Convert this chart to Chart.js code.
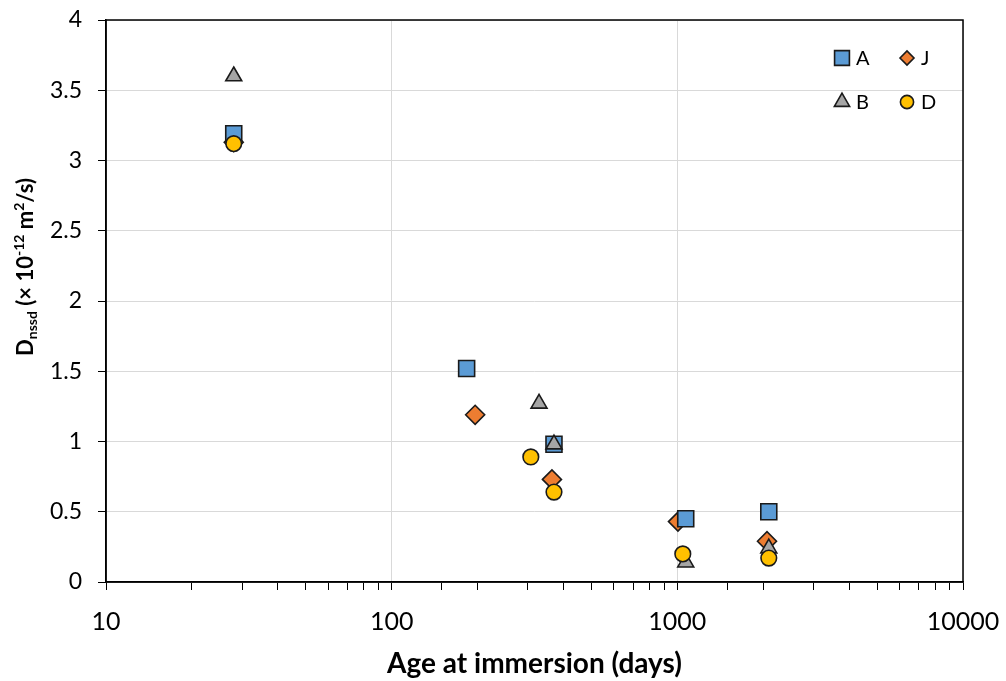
<!DOCTYPE html>
<html><head><meta charset="utf-8">
<script src="https://cdn.jsdelivr.net/npm/chart.js@4.4.1/dist/chart.umd.min.js"></script>
<style>html,body{margin:0;padding:0;background:#fff;}canvas{display:block;}</style>
</head><body>
<canvas id="c" width="1006" height="681"></canvas>
<script>
// ---- data ----
const seriesNames = ['A', 'J', 'B', 'D'];
const ageA = [28, 183, 370, 1070, 2090];
const dA   = [3.19, 1.52, 0.98, 0.45, 0.50];
const ageJ = [28, 196, 364, 1005, 2060];
const dJ   = [3.13, 1.19, 0.73, 0.43, 0.29];
const ageB = [28, 328, 370, 1070, 2090];
const dB   = [3.60, 1.27, 0.98, 0.14, 0.24];
const ageD = [28, 307, 370, 1045, 2090];
const dD   = [3.12, 0.89, 0.64, 0.20, 0.17];
const xTickLabels = ['10', '100', '1000', '10000'];
const yTickLabels = ['0', '0.5', '1', '1.5', '2', '2.5', '3', '3.5', '4'];
const xTitle = 'Age at immersion (days)';
const yTitleParts = [
  {t: 'D', s: 'main'}, {t: 'nssd', s: 'sub'}, {t: ' (\u00d7 10', s: 'main'},
  {t: '-12', s: 'sup'}, {t: ' m', s: 'main'}, {t: '2', s: 'sup'}, {t: '/s)', s: 'main'}
];

const pts = (xs, ys) => xs.map((x, i) => ({x, y: ys[i]}));
const FONT = 'Lato';
const EDGE = '#1a1a1a';

const styles = {
  A: {bg: '#5B9BD5', ps: 'rect', r: 11.3, order: 2},
  J: {bg: '#ED7D31', ps: 'rectRot', r: 9.5, order: 3},
  B: {bg: '#A5A5A5', ps: 'triangle', r: 9.2, order: 1},
  D: {bg: '#FFC000', ps: 'circle', r: 7.8, order: 0}
};
const dataMap = {A: pts(ageA, dA), J: pts(ageJ, dJ), B: pts(ageB, dB), D: pts(ageD, dD)};

const datasets = seriesNames.map(n => ({
  label: n,
  data: dataMap[n],
  pointStyle: styles[n].ps,
  pointRadius: styles[n].r,
  pointHoverRadius: styles[n].r,
  backgroundColor: styles[n].bg,
  borderColor: EDGE,
  borderWidth: 1.6,
  order: styles[n].order
}));

const extras = {
  id: 'extras',
  afterDraw(chart) {
    const {ctx, chartArea: a} = chart;
    ctx.save();
    // frame
    ctx.strokeStyle = '#000';
    ctx.lineWidth = 1.5;
    ctx.strokeRect(a.left, a.top, a.right - a.left, a.bottom - a.top);
    // legend
    const pos = {A: [a.right - 121, a.top + 38], J: [a.right - 56, a.top + 38],
                 B: [a.right - 121, a.top + 82], D: [a.right - 56, a.top + 82]};
    const lr = {A: 10.5, J: 7, B: 8.8, D: 6.6};
    seriesNames.forEach(n => {
      const [x, y] = pos[n];
      ctx.fillStyle = styles[n].bg;
      ctx.strokeStyle = EDGE;
      ctx.lineWidth = 1.6;
      Chart.helpers.drawPoint(ctx, {pointStyle: styles[n].ps, radius: lr[n], borderWidth: 1.6, rotation: 0}, x, y);
      ctx.fillStyle = '#000';
      ctx.font = '20px ' + FONT;
      ctx.textBaseline = 'middle';
      ctx.textAlign = 'left';
      ctx.fillText(n, x + 14, y + 1);
    });
    // y title
    const fm = 'bold 22px ' + FONT, fs = 'bold 14px ' + FONT;
    let total = 0;
    yTitleParts.forEach(p => { ctx.font = p.s === 'main' ? fm : fs; p.w = ctx.measureText(p.t).width; total += p.w; });
    ctx.translate(33, 267);
    ctx.rotate(-Math.PI / 2);
    ctx.fillStyle = '#000';
    ctx.textBaseline = 'alphabetic';
    ctx.textAlign = 'left';
    let x = -total / 2;
    yTitleParts.forEach(p => {
      ctx.font = p.s === 'main' ? fm : fs;
      const dy = p.s === 'sub' ? 4 : (p.s === 'sup' ? -9 : 0);
      ctx.fillText(p.t, x, dy);
      x += p.w;
    });
    ctx.restore();
  }
};

const noPad = s => { s.paddingTop = 0; s.paddingBottom = 0; s.paddingLeft = 0; s.paddingRight = 0; };

new Chart(document.getElementById('c'), {
  type: 'scatter',
  data: {datasets},
  plugins: [extras],
  options: {
    responsive: false,
    animation: false,
    devicePixelRatio: 1,
    layout: {padding: {left: 0, right: 43, top: 20, bottom: 0}},
    plugins: {legend: {display: false}, tooltip: {enabled: false}},
    scales: {
      x: {
        type: 'logarithmic',
        min: 10, max: 10000,
        afterFit(s) { s.height = 99; noPad(s); },
        border: {color: '#000', width: 1.5},
        grid: {
          color: c => xTickLabels.includes(String(c.tick && c.tick.value)) ? '#d9d9d9' : 'rgba(0,0,0,0)',
          tickColor: '#000',
          tickLength: 8,
          lineWidth: 1
        },
        ticks: {
          autoSkip: false, maxRotation: 0, minRotation: 0,
          padding: 17,
          color: '#000',
          font: {family: FONT, size: 25},
          callback: v => { const l = xTickLabels.find(t => Number(t) === v); return l === undefined ? '' : l; }
        },
        title: {display: true, text: xTitle, color: '#000', font: {family: FONT, size: 28, weight: 'bold'}, padding: {top: 0, bottom: 0}}
      },
      y: {
        min: 0, max: 4,
        afterFit(s) { s.width = 106; noPad(s); },
        border: {color: '#000', width: 1.5},
        grid: {color: '#d9d9d9', tickColor: '#000', tickLength: 8, lineWidth: 1},
        ticks: {
          stepSize: 0.5,
          padding: 16,
          color: '#000',
          font: {family: FONT, size: 23},
          callback: v => { const l = yTickLabels.find(t => Number(t) === v); return l === undefined ? '' : l; }
        }
      }
    }
  }
});
</script>
</body></html>
